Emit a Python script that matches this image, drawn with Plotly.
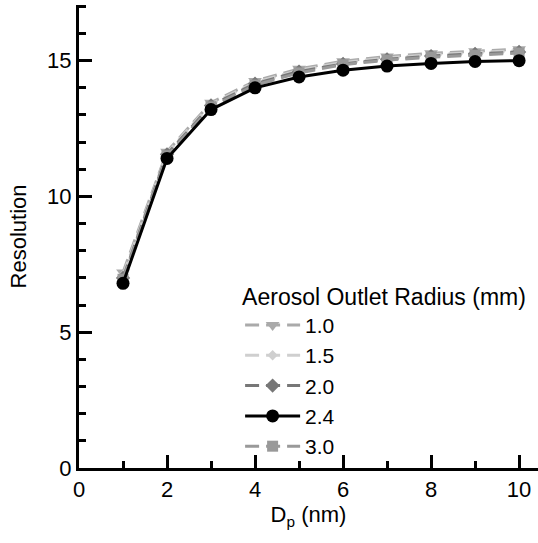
import plotly.graph_objects as go

dp_nm = [1, 2, 3, 4, 5, 6, 7, 8, 9, 10]
res_r10 = [7.2, 11.65, 13.45, 14.25, 14.7, 14.98, 15.15, 15.27, 15.35, 15.42]
res_r15 = [7.1, 11.6, 13.4, 14.2, 14.65, 14.93, 15.1, 15.22, 15.3, 15.37]
res_r20 = [7.0, 11.55, 13.35, 14.15, 14.6, 14.88, 15.05, 15.17, 15.25, 15.32]
res_r24 = [6.8, 11.4, 13.2, 14.0, 14.4, 14.65, 14.8, 14.9, 14.97, 15.0]
res_r30 = [6.95, 11.5, 13.3, 14.1, 14.55, 14.85, 15.02, 15.13, 15.2, 15.28]
labels = ["1.0", "1.5", "2.0", "2.4", "3.0"]

FONT = "Liberation Sans, Arial, sans-serif"
dash = "14px,7px"

fig = go.Figure()
specs = [
    (res_r10, labels[0], "#aaaaaa", "triangle-down", 12, dash, 1),
    (res_r15, labels[1], "#cfcfcf", "diamond", 8, dash, 2),
    (res_r20, labels[2], "#777777", "diamond", 11, dash, 3),
    (res_r30, labels[4], "#999999", "square", 11, dash, 5),
    (res_r24, labels[3], "#000000", "circle", 13, "solid", 4),
]
for ys, name, col, sym, size, d, rank in specs:
    fig.add_trace(go.Scatter(
        x=dp_nm, y=ys, name=name, mode="lines+markers",
        line=dict(color=col, width=3, dash=d),
        marker=dict(color=col, symbol=sym, size=size),
        legendrank=rank,
    ))

axis_common = dict(
    showline=True, linecolor="black", linewidth=3,
    ticks="inside", tickcolor="black", tickwidth=3, ticklen=13,
    showgrid=False, zeroline=False, mirror=False, automargin=False,
    tickfont=dict(family=FONT, size=22, color="black"),
)

fig.update_xaxes(
    range=[0, 10.43], dtick=2, tick0=0,
    minor=dict(ticks="inside", dtick=1, ticklen=7, tickwidth=3, tickcolor="black", showgrid=False),
    title=dict(text="D<sub>p</sub> (nm)", font=dict(family=FONT, size=22, color="black"), standoff=2),
    **axis_common,
)
fig.update_yaxes(
    range=[0, 17.05], dtick=5, tick0=0,
    minor=dict(ticks="inside", dtick=1, ticklen=7, tickwidth=3, tickcolor="black", showgrid=False),
    title=dict(text="Resolution", font=dict(family=FONT, size=22, color="black")),
    **axis_common,
)

fig.update_layout(
    width=538, height=543,
    margin=dict(l=79, r=0, t=5, b=75),
    paper_bgcolor="white", plot_bgcolor="white",
    font=dict(family=FONT, color="black"),
    legend=dict(
        title=dict(text="Aerosol Outlet Radius (mm)", side="top",
                   font=dict(family=FONT, size=23, color="black")),
        font=dict(family=FONT, size=21, color="black"),
        x=0.351, y=0.417, xanchor="left", yanchor="top",
        itemwidth=55,
        bgcolor="rgba(0,0,0,0)", tracegroupgap=0,
    ),
)

fig.write_html("out.html", config={"displayModeBar": False},
               post_script="document.body.style.margin='0';")
